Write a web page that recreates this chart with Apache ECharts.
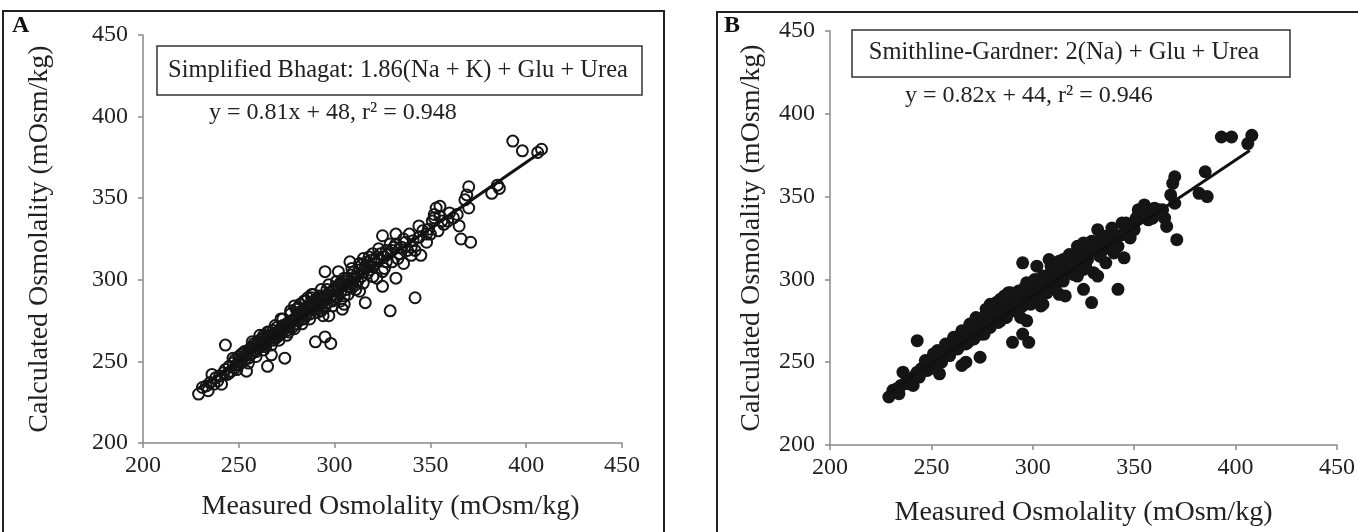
<!DOCTYPE html>
<html>
<head>
<meta charset="utf-8">
<script src="https://cdn.jsdelivr.net/npm/echarts@6/dist/echarts.min.js"></script>
<style>
html,body{margin:0;padding:0;background:#fff;}
#chart{width:1358px;height:532px;}
</style>
</head>
<body>
<div id="chart"></div>
<script>
// Measured osmolality (mOsm/kg) for each sample
const measured = [
229,231,233,234,235,236,237,238,239,240,241,242,243,243,244,245,246,247,248,248,
249,250,250,251,252,252,253,254,254,255,255,256,256,257,257,258,258,259,259,260,
260,261,261,262,262,263,263,264,264,265,265,266,266,267,267,268,268,269,269,270,
270,271,271,272,272,273,273,274,274,275,275,276,276,277,277,278,278,279,279,280,
280,281,281,282,282,283,283,284,284,285,285,286,286,287,287,288,288,289,289,290,
290,291,291,292,292,293,293,294,294,295,295,295,296,296,297,297,298,298,299,299,
300,300,301,301,302,302,303,303,304,305,305,305,306,306,307,307,308,308,309,309,
310,310,311,311,312,312,313,313,314,314,315,315,316,316,317,317,318,318,319,320,
320,321,322,322,323,324,325,325,325,326,327,327,328,329,330,330,331,332,332,332,
334,335,336,337,338,339,340,341,342,342,344,345,346,348,349,350,352,352,353,354,
355,356,357,359,362,365,366,368,369,370,370,371,382,385,386,393,398,406,408,
262,264,266,270,273,276,281,284,288,292,
245,247,249,251,253,255,257,259,261,263,265,267,269,271,273,275,277,279,281,283,
285,287,289,291,293,295,297,299,301,303,305,307,309,311,313,315,318,320,323,326,
329,333,336,340,344,348,351,355,360,364,268,272,276,280,284,288,292,296,300,304
];
// Calculated osmolality, Simplified Bhagat (panel A)
const calcBhagat = [
230,234,235,232,237,242,236,240,238,241,236,243,260,245,242,247,244,249,246,251,
248,250,253,249,252,255,251,244,254,256,252,258,254,255,259,257,261,256,260,262,
258,259,263,261,264,260,266,263,261,265,247,264,268,266,254,265,269,267,264,268,
271,266,269,270,267,272,269,252,271,273,269,274,271,281,273,275,271,276,284,277,
273,279,275,285,278,280,276,282,287,281,278,284,289,282,279,285,291,283,287,285,
262,288,282,290,284,286,281,288,278,290,265,305,289,286,292,278,261,290,293,287,
295,291,293,289,296,305,292,298,282,297,285,290,299,294,301,296,311,298,303,295,
300,305,302,297,304,299,293,306,302,309,313,305,286,308,304,311,309,306,312,308,
316,310,314,301,312,316,296,305,327,314,318,311,316,281,311,318,320,301,328,322,
316,320,310,323,318,328,315,324,289,318,326,315,330,323,331,328,340,338,344,330,
345,336,334,336,338,333,325,349,352,357,344,323,353,358,356,385,379,378,380,
262,259,266,265,271,273,280,281,286,289,
243,252,245,254,256,249,262,253,266,257,268,260,272,263,276,266,279,270,283,273,
287,276,291,280,294,283,297,284,299,287,301,291,307,294,310,298,314,302,319,307,
322,313,325,320,333,328,336,339,341,340,263,276,268,282,276,289,286,294,288,298
];
// Calculated osmolality, Smithline-Gardner (panel B)
const calcSmithline = [
229,233,234,231,236,244,237,239,237,240,236,242,263,244,241,246,245,248,245,250,
249,251,252,248,253,254,250,243,255,255,251,257,255,256,258,258,260,257,261,261,
259,258,264,262,265,259,265,264,262,266,248,265,267,266,250,266,270,268,265,269,
270,267,270,271,266,273,270,253,272,272,270,275,272,282,274,276,272,277,285,278,
274,280,276,286,279,281,277,283,288,282,279,285,290,283,280,286,292,284,288,286,
262,289,283,291,285,287,282,289,277,291,267,310,290,287,293,275,262,291,294,288,
296,290,292,290,297,308,293,299,284,296,285,291,300,295,302,297,312,299,304,296,
301,306,303,298,305,300,291,307,303,310,312,306,290,309,305,312,310,305,313,309,
315,311,320,302,313,317,294,306,322,315,319,312,317,286,304,319,321,302,330,323,
317,321,310,322,319,331,316,325,294,320,327,313,334,325,332,330,342,339,341,338,
345,339,336,337,342,337,332,351,358,362,346,324,352,365,350,386,386,382,387,
263,260,267,266,272,274,281,282,287,290,
244,251,246,255,257,250,261,254,265,258,269,261,273,264,275,267,280,271,284,274,
288,277,292,281,293,284,298,285,300,288,302,292,308,295,311,299,315,303,320,308,
323,314,326,321,334,329,337,340,343,342,262,277,267,283,275,290,285,295,287,299
];
// Regression line endpoints
const fitA = [[229, 233.5], [408, 378.5]];
const fitB = [[229, 231.8], [407, 377.8]];
const axisTicks = [200, 250, 300, 350, 400, 450];

const font = "'Liberation Serif','Times New Roman',serif";
const ptsA = measured.map((m, i) => [m, calcBhagat[i]]);
const ptsB = measured.map((m, i) => [m, calcSmithline[i]]);

function xAx(gi) {
  return {
    type: 'value', gridIndex: gi, min: axisTicks[0], max: axisTicks[axisTicks.length - 1], interval: 50,
    name: 'Measured Osmolality (mOsm/kg)', nameLocation: 'middle', nameGap: gi === 0 ? 50 : 54,
    nameTextStyle: { fontFamily: font, fontSize: 28, color: '#222', padding: gi === 0 ? [0, 0, 0, 16] : 0 },
    axisLine: { show: true, onZero: false, lineStyle: { color: '#8a8a8a', width: 1.5 } },
    axisTick: { show: true, length: 5, lineStyle: { color: '#8a8a8a', width: 1.5 } },
    axisLabel: { fontFamily: font, fontSize: 24, color: '#222', margin: 11 },
    splitLine: { show: false }
  };
}
function yAx(gi) {
  return {
    type: 'value', gridIndex: gi, min: axisTicks[0], max: axisTicks[axisTicks.length - 1], interval: 50,
    name: 'Calculated Osmolality (mOsm/kg)', nameLocation: 'middle', nameGap: gi === 0 ? 89 : 64,
    nameTextStyle: { fontFamily: font, fontSize: 28, color: '#222' },
    axisLine: { show: true, onZero: false, lineStyle: { color: '#8a8a8a', width: 1.5 } },
    axisTick: { show: true, length: 5, lineStyle: { color: '#8a8a8a', width: 1.5 } },
    axisLabel: { fontFamily: font, fontSize: 24, color: '#222', margin: 15 },
    splitLine: { show: false }
  };
}

const chart = echarts.init(document.getElementById('chart'), null, { renderer: 'canvas' });
chart.setOption({
  backgroundColor: '#fff',
  animation: false,
  grid: [
    { left: 143, top: 35, width: 479, height: 408 },
    { left: 830, top: 31, width: 509, height: 414 }
  ],
  xAxis: [xAx(0), xAx(1)],
  yAxis: [yAx(0), yAx(1)],
  series: [
    { type: 'scatter', xAxisIndex: 0, yAxisIndex: 0, data: ptsA, symbol: 'circle', symbolSize: 11,
      itemStyle: { color: 'rgba(0,0,0,0)', borderColor: '#151515', borderWidth: 2, opacity: 1 }, z: 2 },
    { type: 'line', xAxisIndex: 0, yAxisIndex: 0, data: fitA, symbol: 'none',
      lineStyle: { color: '#111', width: 3 }, z: 3 },
    { type: 'scatter', xAxisIndex: 1, yAxisIndex: 1, data: ptsB, symbol: 'circle', symbolSize: 13,
      itemStyle: { color: '#151515', opacity: 1 }, z: 2 },
    { type: 'line', xAxisIndex: 1, yAxisIndex: 1, data: fitB, symbol: 'none',
      lineStyle: { color: '#111', width: 3 }, z: 3 }
  ],
  graphic: [
    { type: 'rect', shape: { x: 3, y: 11, width: 661, height: 540 }, style: { fill: 'none', stroke: '#222', lineWidth: 2 }, z: 0 },
    { type: 'rect', shape: { x: 717, y: 12, width: 660, height: 540 }, style: { fill: 'none', stroke: '#222', lineWidth: 2 }, z: 0 },
    { type: 'text', left: 12, top: 14, style: { text: 'A', font: "bold 24px " + font, fill: '#111' } },
    { type: 'text', left: 724, top: 14, style: { text: 'B', font: "bold 24px " + font, fill: '#111' } },
    { type: 'rect', shape: { x: 157, y: 46, width: 485, height: 49 }, style: { fill: '#fff', stroke: '#333', lineWidth: 1.5 }, z: 10 },
    { type: 'text', x: 398, y: 71, style: { text: 'Simplified Bhagat: 1.86(Na + K) + Glu + Urea', font: "24.5px " + font, fill: '#222', textAlign: 'center', textVerticalAlign: 'middle' }, z: 11 },
    { type: 'text', x: 209, y: 113, style: { text: 'y = 0.81x + 48, r² = 0.948', font: "24px " + font, fill: '#222', textAlign: 'left', textVerticalAlign: 'middle' }, z: 11 },
    { type: 'rect', shape: { x: 852, y: 30, width: 438, height: 47 }, style: { fill: '#fff', stroke: '#333', lineWidth: 1.5 }, z: 10 },
    { type: 'text', x: 1064, y: 53, style: { text: 'Smithline-Gardner: 2(Na) + Glu + Urea', font: "24.5px " + font, fill: '#222', textAlign: 'center', textVerticalAlign: 'middle' }, z: 11 },
    { type: 'text', x: 905, y: 96, style: { text: 'y = 0.82x + 44, r² = 0.946', font: "24px " + font, fill: '#222', textAlign: 'left', textVerticalAlign: 'middle' }, z: 11 }
  ]
});
</script>
</body>
</html>
